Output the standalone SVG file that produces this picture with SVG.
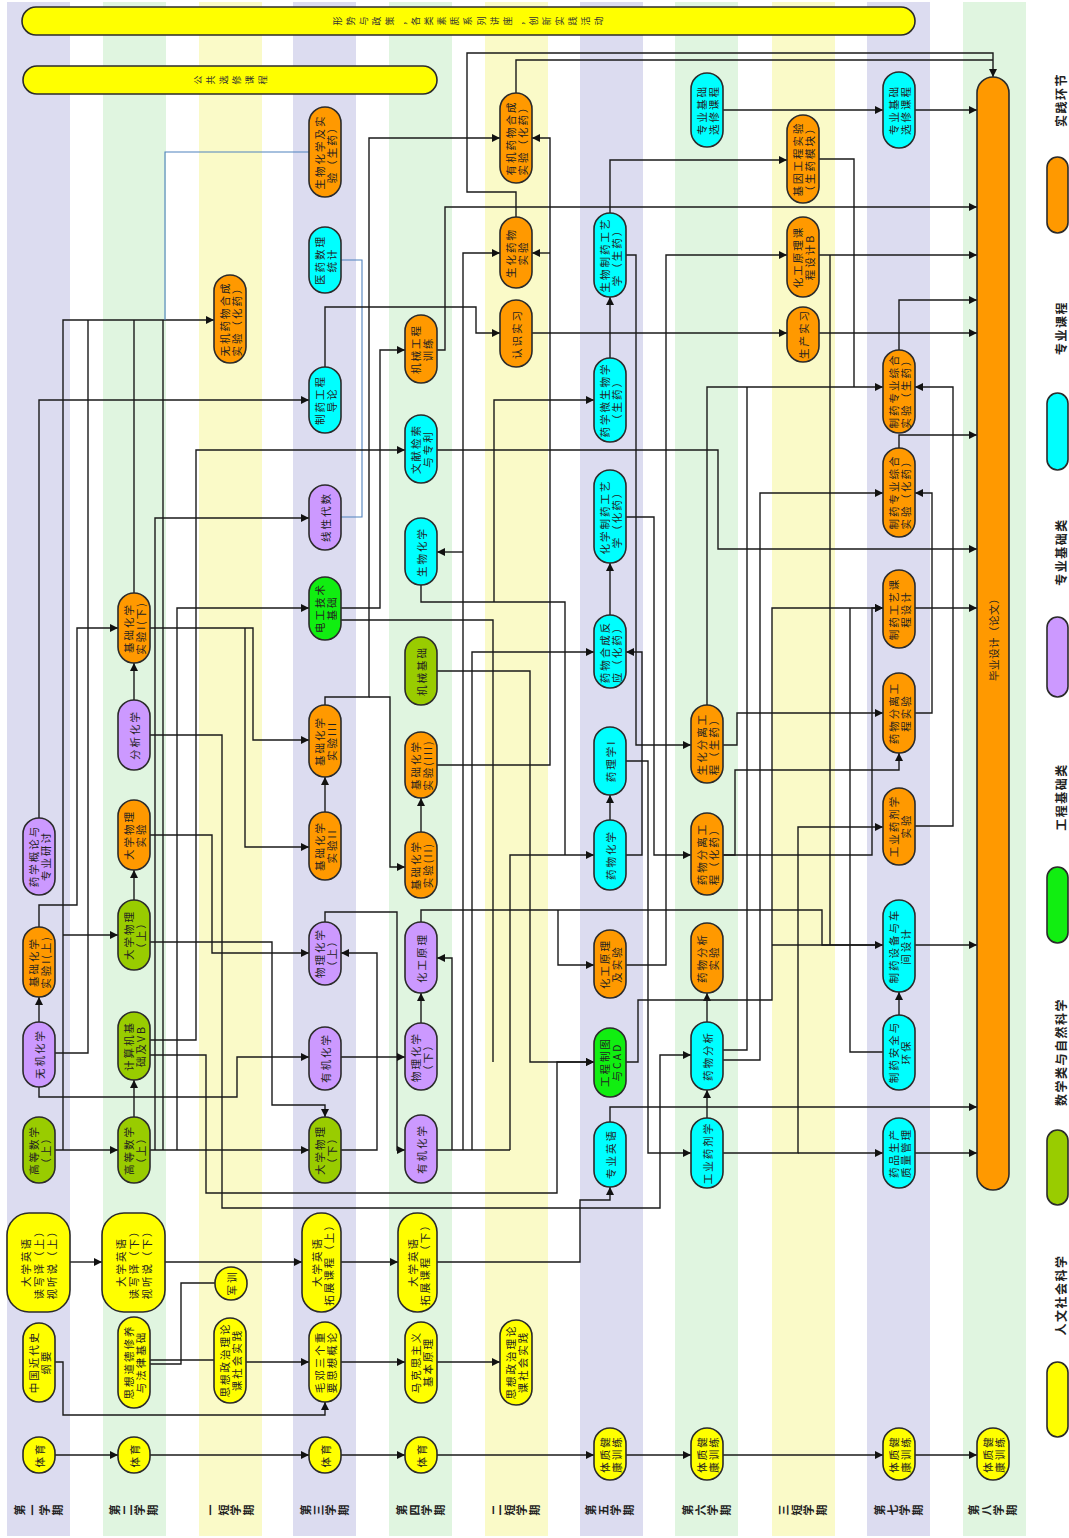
<svg xmlns="http://www.w3.org/2000/svg" width="1069" height="1538" viewBox="0 0 1069 1538">
<defs>
<marker id="ah" viewBox="0 0 10 10" refX="10" refY="5" markerWidth="8" markerHeight="8" markerUnits="userSpaceOnUse" orient="auto"><path d="M0,0 L10,5 L0,10 z" fill="#111"/></marker>
<style>
.sL{fill:#DCDCF0}.sG{fill:#E0F5E0}.sY{fill:#FAFAC8}
.n{stroke:#2b2b2b;stroke-width:1.6}
.o{fill:#FF9900}.c{fill:#00FFFF}.p{fill:#CC99FF}.g{fill:#11EE11}.v{fill:#99CC00}.y{fill:#FFFF00}
.t{font-family:"Noto Sans CJK SC","Liberation Sans",sans-serif;font-size:10.5px;fill:#222;letter-spacing:2px;text-anchor:middle;dominant-baseline:central}
.sl{font-family:"Noto Sans CJK SC","Liberation Sans",sans-serif;font-size:11px;font-weight:bold;fill:#222;letter-spacing:1.5px;text-anchor:middle}
.bt{font-family:"Noto Sans CJK SC","Liberation Sans",sans-serif;font-size:9px;fill:#333;letter-spacing:4px;text-anchor:middle}
.lg{font-family:"Noto Sans CJK SC","Liberation Sans",sans-serif;font-size:12px;font-weight:bold;fill:#222;letter-spacing:1.5px;text-anchor:middle;dominant-baseline:central}
.a{fill:none;stroke:#1a1a1a;stroke-width:1.4;marker-end:url(#ah)}
.l{fill:none;stroke:#1a1a1a;stroke-width:1.4}
.b{fill:none;stroke:#4f81bd;stroke-width:1.1}
</style>
</defs>
<g id="stripes">
<rect class="sL" x="7" y="2" width="63" height="1534"/>
<rect class="sG" x="103" y="2" width="63" height="1534"/>
<rect class="sY" x="199" y="2" width="63" height="1534"/>
<rect class="sL" x="293" y="2" width="63" height="1534"/>
<rect class="sG" x="389" y="2" width="63" height="1534"/>
<rect class="sY" x="485" y="2" width="63" height="1534"/>
<rect class="sL" x="580" y="2" width="63" height="1534"/>
<rect class="sG" x="675" y="2" width="63" height="1534"/>
<rect class="sY" x="772" y="2" width="63" height="1534"/>
<rect class="sL" x="867" y="2" width="63" height="1534"/>
<rect class="sG" x="963" y="2" width="63" height="1534"/>
</g>
<g id="semesters">
<text class="sl" x="49.4" y="1515.5" rotate="-90">第一学期</text>
<text class="sl" x="144.4" y="1515.5" rotate="-90">第二学期</text>
<text class="sl" x="240.4" y="1515.5" rotate="-90">一短学期</text>
<text class="sl" x="335.4" y="1515.5" rotate="-90">第三学期</text>
<text class="sl" x="431.4" y="1515.5" rotate="-90">第四学期</text>
<text class="sl" x="526.4" y="1515.5" rotate="-90">二短学期</text>
<text class="sl" x="620.4" y="1515.5" rotate="-90">第五学期</text>
<text class="sl" x="717.4" y="1515.5" rotate="-90">第六学期</text>
<text class="sl" x="813.4" y="1515.5" rotate="-90">三短学期</text>
<text class="sl" x="909.4" y="1515.5" rotate="-90">第七学期</text>
<text class="sl" x="1003.4" y="1515.5" rotate="-90">第八学期</text>
</g>
<g id="connectors">
<path class="a" d="M55,1455 H118"/>
<path class="a" d="M150,1455 H309"/>
<path class="a" d="M341,1455 H405"/>
<path class="a" d="M437,1455 H594"/>
<path class="a" d="M626,1455 H691"/>
<path class="a" d="M723,1455 H883"/>
<path class="a" d="M915,1455 H977"/>
<path class="a" d="M70,1262 H102"/>
<path class="a" d="M165,1262 H302"/>
<path class="a" d="M341,1262 H398"/>
<path class="a" d="M437,1262 H580 V1200 H610 V1187"/>
<path class="a" d="M55,1362 H63 V1415 H325 V1402"/>
<path class="l" d="M150,1360 H214"/>
<path class="l" d="M150,1364 H181 V1283 H215"/>
<path class="a" d="M246,1362 H309"/>
<path class="a" d="M341,1362 H405"/>
<path class="a" d="M437,1362 H500"/>
<path class="a" d="M55,1150 H118"/>
<path class="a" d="M150,1150 H309"/>
<path class="a" d="M134,1117 V1080"/>
<path class="a" d="M39,1022 V997"/>
<path class="a" d="M134,900 V870"/>
<path class="a" d="M134,700 V663"/>
<path class="a" d="M325,812 V777"/>
<path class="a" d="M421,832 V798"/>
<path class="a" d="M610,820 V795"/>
<path class="a" d="M610,615 V563"/>
<path class="a" d="M610,358 V297"/>
<path class="a" d="M421,1023 V993"/>
<path class="a" d="M707,1022 V993"/>
<path class="a" d="M707,1118 V1090"/>
<path class="a" d="M899,1015 V992"/>
<path class="a" d="M39,818 V400 H309"/>
<path class="a" d="M63,1150 V320 H214"/>
<path class="a" d="M63,935 H118"/>
<path class="a" d="M39,927 V905 H77 V628 H118"/>
<path class="l" d="M55,1053 H88 V320"/>
<path class="l" d="M134,593 V320"/>
<path class="l" d="M163,1150 V320"/>
<path class="b" d="M309,152 H165 V320"/>
<path class="b" d="M341,260 H362 V517 H341"/>
<path class="a" d="M155,1150 V518 H309"/>
<path class="a" d="M177,1150 V608 H309"/>
<path class="a" d="M150,1040 H196 V450 H405"/>
<path class="a" d="M150,1055 H206 V1193 H557 V1062 H594"/>
<path class="a" d="M39,1087 V1097 H237 V1057 H309"/>
<path class="a" d="M150,735 H222 V1208 H660 V1055 H691"/>
<path class="a" d="M150,835 H212 V953 H309"/>
<path class="a" d="M150,942 H272 V1105 H325 V1117"/>
<path class="a" d="M150,628 H253 V740 H309"/>
<path class="a" d="M245,628 V847 H309"/>
<path class="a" d="M325,705 V697 H369 V138 H500"/>
<path class="a" d="M369,697 H390 V867 H405"/>
<path class="a" d="M341,608 H380 V350 H405"/>
<path class="l" d="M341,620 H493 V1062"/>
<path class="a" d="M325,367 V307 H476 V333 H500"/>
<path class="a" d="M437,350 H445 V207 H977"/>
<path class="a" d="M516,217 V192 H467 V53 H993 V77"/>
<path class="l" d="M516,93 V60 H993"/>
<path class="a" d="M437,765 H550 V138 H532"/>
<path class="a" d="M550,253 H532"/>
<path class="l" d="M437,1150 H510"/>
<path class="a" d="M452,1150 V958 H437"/>
<path class="a" d="M463,1150 V253 H500"/>
<path class="a" d="M463,552 H437"/>
<path class="a" d="M472,1150 V652 H594"/>
<path class="a" d="M510,1150 V855 H594"/>
<path class="l" d="M421,585 V602 H565 V855"/>
<path class="a" d="M494,602 V400 H594"/>
<path class="a" d="M626,855 H642 V652 H626"/>
<path class="a" d="M421,922 V910 H822 V945 H883"/>
<path class="a" d="M558,910 V965 H594"/>
<path class="a" d="M626,965 H666 V255 H787"/>
<path class="a" d="M626,761 H648 V1153 H691"/>
<path class="a" d="M626,517 H654 V855 H691"/>
<path class="a" d="M626,255 H636 V745 H691"/>
<path class="a" d="M723,855 H735 V770 H899 V753"/>
<path class="a" d="M723,745 H737 V713 H883"/>
<path class="a" d="M707,705 V387 H883"/>
<path class="l" d="M723,1050 H747 V387"/>
<path class="a" d="M723,1060 H760 V493 H883"/>
<path class="l" d="M819,159 H854 V387"/>
<path class="a" d="M915,826 H953 V387 H915"/>
<path class="a" d="M915,713 H932 V493 H915"/>
<path class="a" d="M915,608 H977"/>
<path class="a" d="M723,855 H872 V608 H883"/>
<path class="a" d="M723,1153 H798 V827 H883"/>
<path class="a" d="M798,1153 H883"/>
<path class="a" d="M915,1153 H977"/>
<path class="a" d="M610,1122 V1107 H977"/>
<path class="a" d="M915,945 H977"/>
<path class="a" d="M626,1062 H638 V1000 H772 V608 H883"/>
<path class="l" d="M772,945 H883"/>
<path class="l" d="M850,608 V1052 H883"/>
<path class="l" d="M830,255 V945"/>
<path class="a" d="M819,255 H977"/>
<path class="a" d="M819,333 H977"/>
<path class="a" d="M532,333 H787"/>
<path class="a" d="M610,213 V160 H787"/>
<path class="a" d="M723,110 H883"/>
<path class="a" d="M915,110 H977"/>
<path class="a" d="M899,350 V300 H977"/>
<path class="a" d="M899,448 V435 H977"/>
<path class="a" d="M437,450 H718 V549 H977"/>
<path class="a" d="M325,922 V912 H397 V1150 H405"/>
<path class="a" d="M341,1057 H405"/>
<path class="a" d="M341,1150 H377 V953 H341"/>
<path class="a" d="M437,671 H530 V1062 H594"/>
</g>
<g id="banners">
<rect class="n y" x="22" y="7" width="893" height="28" rx="14"/>
<text class="bt" x="478" y="25.5" rotate="-90">形势与政策，各类素质系列讲座，创新实践活动</text>
<rect class="n y" x="23" y="66" width="414" height="28" rx="14"/>
<text class="bt" x="240" y="84.5" rotate="-90">公共选修课程</text>
</g>
<g id="n_jc1s"><rect class="n o" x="23" y="927" width="32" height="70" rx="16"/><g transform="translate(39,962) rotate(-90)"><text class="t" y="-6">基础化学</text><text class="t" y="6">实验I(上)</text></g></g>
<g id="n_yxgl"><rect class="n p" x="23" y="818" width="32" height="77" rx="16"/><g transform="translate(39,856) rotate(-90)"><text class="t" y="-6">药学概论与</text><text class="t" y="6">专业研讨</text></g></g>
<g id="n_wjhx"><rect class="n p" x="23" y="1022" width="32" height="65" rx="16"/><g transform="translate(39,1054) rotate(-90)"><text class="t">无机化学</text></g></g>
<g id="n_gs1"><rect class="n v" x="23" y="1117" width="32" height="66" rx="16"/><g transform="translate(39,1150) rotate(-90)"><text class="t" y="-6">高等数学</text><text class="t" y="6">（上）</text></g></g>
<g id="n_yy1"><rect class="n y" x="7" y="1213" width="63" height="99" rx="22"/><g transform="translate(38,1262) rotate(-90)"><text class="t" y="-13">大学英语</text><text class="t" y="0">读写译（上）</text><text class="t" y="13">视听说（上）</text></g></g>
<g id="n_jds"><rect class="n y" x="23" y="1323" width="32" height="79" rx="16"/><g transform="translate(39,1362) rotate(-90)"><text class="t" y="-6">中国近代史</text><text class="t" y="6">纲要</text></g></g>
<g id="n_ty1"><rect class="n y" x="23" y="1437" width="32" height="36" rx="16"/><g transform="translate(39,1455) rotate(-90)"><text class="t">体育</text></g></g>
<g id="n_jc1x"><rect class="n o" x="118" y="593" width="32" height="70" rx="16"/><g transform="translate(134,628) rotate(-90)"><text class="t" y="-6">基础化学</text><text class="t" y="6">实验I(下)</text></g></g>
<g id="n_fxhx"><rect class="n p" x="118" y="700" width="32" height="70" rx="16"/><g transform="translate(134,735) rotate(-90)"><text class="t">分析化学</text></g></g>
<g id="n_dwsy"><rect class="n o" x="118" y="800" width="32" height="70" rx="16"/><g transform="translate(134,835) rotate(-90)"><text class="t" y="-6">大学物理</text><text class="t" y="6">实验</text></g></g>
<g id="n_dw1"><rect class="n v" x="118" y="900" width="32" height="70" rx="16"/><g transform="translate(134,935) rotate(-90)"><text class="t" y="-6">大学物理</text><text class="t" y="6">（上）</text></g></g>
<g id="n_jsj"><rect class="n v" x="118" y="1012" width="32" height="68" rx="16"/><g transform="translate(134,1046) rotate(-90)"><text class="t" y="-6">计算机基</text><text class="t" y="6">础及VB</text></g></g>
<g id="n_gs2"><rect class="n v" x="118" y="1117" width="32" height="66" rx="16"/><g transform="translate(134,1150) rotate(-90)"><text class="t" y="-6">高等数学</text><text class="t" y="6">（上）</text></g></g>
<g id="n_yy2"><rect class="n y" x="102" y="1213" width="63" height="99" rx="22"/><g transform="translate(133,1262) rotate(-90)"><text class="t" y="-13">大学英语</text><text class="t" y="0">读写译（下）</text><text class="t" y="13">视听说（下）</text></g></g>
<g id="n_sxdd"><rect class="n y" x="118" y="1317" width="32" height="91" rx="16"/><g transform="translate(134,1362) rotate(-90)"><text class="t" y="-6">思想道德修养</text><text class="t" y="6">与法律基础</text></g></g>
<g id="n_ty2"><rect class="n y" x="118" y="1437" width="32" height="36" rx="16"/><g transform="translate(134,1455) rotate(-90)"><text class="t">体育</text></g></g>
<g id="n_wjyw"><rect class="n o" x="214" y="275" width="32" height="88" rx="16"/><g transform="translate(230,319) rotate(-90)"><text class="t" y="-6">无机药物合成</text><text class="t" y="6">实验（化药）</text></g></g>
<g id="n_jx"><rect class="n y" x="215" y="1267" width="32" height="33" rx="16"/><g transform="translate(231,1283) rotate(-90)"><text class="t">军训</text></g></g>
<g id="n_szsj1"><rect class="n y" x="214" y="1318" width="32" height="85" rx="16"/><g transform="translate(230,1360) rotate(-90)"><text class="t" y="-6">思想政治理论</text><text class="t" y="6">课社会实践</text></g></g>
<g id="n_shsy"><rect class="n o" x="309" y="107" width="32" height="90" rx="16"/><g transform="translate(325,152) rotate(-90)"><text class="t" y="-6">生物化学及实</text><text class="t" y="6">验（生药）</text></g></g>
<g id="n_yytj"><rect class="n c" x="309" y="227" width="32" height="66" rx="16"/><g transform="translate(325,260) rotate(-90)"><text class="t" y="-6">医药数理</text><text class="t" y="6">统计</text></g></g>
<g id="n_zydl"><rect class="n c" x="309" y="367" width="32" height="66" rx="16"/><g transform="translate(325,400) rotate(-90)"><text class="t" y="-6">制药工程</text><text class="t" y="6">导论</text></g></g>
<g id="n_xxds"><rect class="n p" x="309" y="485" width="32" height="65" rx="16"/><g transform="translate(325,517) rotate(-90)"><text class="t">线性代数</text></g></g>
<g id="n_dgjs"><rect class="n g" x="309" y="577" width="32" height="63" rx="16"/><g transform="translate(325,608) rotate(-90)"><text class="t" y="-6">电工技术</text><text class="t" y="6">基础</text></g></g>
<g id="n_jc3a"><rect class="n o" x="309" y="705" width="32" height="72" rx="16"/><g transform="translate(325,741) rotate(-90)"><text class="t" y="-6">基础化学</text><text class="t" y="6">实验III</text></g></g>
<g id="n_jc2a"><rect class="n o" x="309" y="812" width="32" height="68" rx="16"/><g transform="translate(325,846) rotate(-90)"><text class="t" y="-6">基础化学</text><text class="t" y="6">实验II</text></g></g>
<g id="n_wh1"><rect class="n p" x="309" y="922" width="32" height="63" rx="16"/><g transform="translate(325,953) rotate(-90)"><text class="t" y="-6">物理化学</text><text class="t" y="6">（上）</text></g></g>
<g id="n_yjhx1"><rect class="n p" x="309" y="1027" width="32" height="63" rx="16"/><g transform="translate(325,1058) rotate(-90)"><text class="t">有机化学</text></g></g>
<g id="n_dw2"><rect class="n v" x="309" y="1117" width="32" height="66" rx="16"/><g transform="translate(325,1150) rotate(-90)"><text class="t" y="-6">大学物理</text><text class="t" y="6">（下）</text></g></g>
<g id="n_yytz1"><rect class="n y" x="302" y="1213" width="39" height="99" rx="19"/><g transform="translate(322,1262) rotate(-90)"><text class="t" y="-6">大学英语</text><text class="t" y="6">拓展课程（上）</text></g></g>
<g id="n_md"><rect class="n y" x="309" y="1322" width="32" height="80" rx="16"/><g transform="translate(325,1362) rotate(-90)"><text class="t" y="-6">毛邓三个重</text><text class="t" y="6">要思想概论</text></g></g>
<g id="n_ty4"><rect class="n y" x="309" y="1437" width="32" height="36" rx="16"/><g transform="translate(325,1455) rotate(-90)"><text class="t">体育</text></g></g>
<g id="n_jxgc"><rect class="n o" x="405" y="315" width="32" height="68" rx="16"/><g transform="translate(421,349) rotate(-90)"><text class="t" y="-6">机械工程</text><text class="t" y="6">训练</text></g></g>
<g id="n_wxjs"><rect class="n c" x="405" y="415" width="32" height="68" rx="16"/><g transform="translate(421,449) rotate(-90)"><text class="t" y="-6">文献检索</text><text class="t" y="6">与专利</text></g></g>
<g id="n_swhx"><rect class="n c" x="405" y="518" width="32" height="67" rx="16"/><g transform="translate(421,552) rotate(-90)"><text class="t">生物化学</text></g></g>
<g id="n_jxjc"><rect class="n v" x="405" y="637" width="32" height="68" rx="16"/><g transform="translate(421,671) rotate(-90)"><text class="t">机械基础</text></g></g>
<g id="n_jc3b"><rect class="n o" x="405" y="732" width="32" height="66" rx="16"/><g transform="translate(421,765) rotate(-90)"><text class="t" y="-6">基础化学</text><text class="t" y="6">实验(III)</text></g></g>
<g id="n_jc2b"><rect class="n o" x="405" y="832" width="32" height="66" rx="16"/><g transform="translate(421,865) rotate(-90)"><text class="t" y="-6">基础化学</text><text class="t" y="6">实验(II)</text></g></g>
<g id="n_hgyl"><rect class="n p" x="405" y="922" width="32" height="71" rx="16"/><g transform="translate(421,958) rotate(-90)"><text class="t">化工原理</text></g></g>
<g id="n_wh2"><rect class="n p" x="405" y="1023" width="32" height="67" rx="16"/><g transform="translate(421,1057) rotate(-90)"><text class="t" y="-6">物理化学</text><text class="t" y="6">（下）</text></g></g>
<g id="n_yjhx2"><rect class="n p" x="405" y="1115" width="32" height="68" rx="16"/><g transform="translate(421,1149) rotate(-90)"><text class="t">有机化学</text></g></g>
<g id="n_yytz2"><rect class="n y" x="398" y="1213" width="39" height="99" rx="19"/><g transform="translate(418,1262) rotate(-90)"><text class="t" y="-6">大学英语</text><text class="t" y="6">拓展课程（下）</text></g></g>
<g id="n_mks"><rect class="n y" x="405" y="1322" width="32" height="81" rx="16"/><g transform="translate(421,1362) rotate(-90)"><text class="t" y="-6">马克思主义</text><text class="t" y="6">基本原理</text></g></g>
<g id="n_ty5"><rect class="n y" x="405" y="1437" width="32" height="36" rx="16"/><g transform="translate(421,1455) rotate(-90)"><text class="t">体育</text></g></g>
<g id="n_yjyw"><rect class="n o" x="500" y="93" width="32" height="90" rx="16"/><g transform="translate(516,138) rotate(-90)"><text class="t" y="-6">有机药物合成</text><text class="t" y="6">实验（化药）</text></g></g>
<g id="n_shyw"><rect class="n o" x="500" y="217" width="32" height="71" rx="16"/><g transform="translate(516,253) rotate(-90)"><text class="t" y="-6">生化药物</text><text class="t" y="6">实验</text></g></g>
<g id="n_rssx"><rect class="n o" x="500" y="300" width="32" height="67" rx="16"/><g transform="translate(516,334) rotate(-90)"><text class="t">认识实习</text></g></g>
<g id="n_szsj2"><rect class="n y" x="500" y="1320" width="32" height="85" rx="16"/><g transform="translate(516,1362) rotate(-90)"><text class="t" y="-6">思想政治理论</text><text class="t" y="6">课社会实践</text></g></g>
<g id="n_swzy"><rect class="n c" x="594" y="213" width="32" height="84" rx="16"/><g transform="translate(610,255) rotate(-90)"><text class="t" y="-6">生物制药工艺</text><text class="t" y="6">学（生药）</text></g></g>
<g id="n_yxwsw"><rect class="n c" x="594" y="358" width="32" height="84" rx="16"/><g transform="translate(610,400) rotate(-90)"><text class="t" y="-6">药学微生物学</text><text class="t" y="6">（生药）</text></g></g>
<g id="n_hxzy"><rect class="n c" x="594" y="470" width="32" height="93" rx="16"/><g transform="translate(610,517) rotate(-90)"><text class="t" y="-6">化学制药工艺</text><text class="t" y="6">学（化药）</text></g></g>
<g id="n_ywhc"><rect class="n c" x="594" y="615" width="32" height="73" rx="16"/><g transform="translate(610,652) rotate(-90)"><text class="t" y="-6">药物合成反</text><text class="t" y="6">应（化药）</text></g></g>
<g id="n_ylx"><rect class="n c" x="594" y="727" width="32" height="68" rx="16"/><g transform="translate(610,761) rotate(-90)"><text class="t">药理学I</text></g></g>
<g id="n_ywhx"><rect class="n c" x="594" y="820" width="32" height="70" rx="16"/><g transform="translate(610,855) rotate(-90)"><text class="t">药物化学</text></g></g>
<g id="n_hgsy"><rect class="n o" x="594" y="930" width="32" height="68" rx="16"/><g transform="translate(610,964) rotate(-90)"><text class="t" y="-6">化工原理</text><text class="t" y="6">及实验</text></g></g>
<g id="n_gczt"><rect class="n g" x="594" y="1028" width="32" height="69" rx="16"/><g transform="translate(610,1062) rotate(-90)"><text class="t" y="-6">工程制图</text><text class="t" y="6">与CAD</text></g></g>
<g id="n_zyyy"><rect class="n c" x="594" y="1122" width="32" height="65" rx="16"/><g transform="translate(610,1154) rotate(-90)"><text class="t">专业英语</text></g></g>
<g id="n_tz7"><rect class="n y" x="594" y="1428" width="32" height="52" rx="16"/><g transform="translate(610,1454) rotate(-90)"><text class="t" y="-6">体质健</text><text class="t" y="6">康训练</text></g></g>
<g id="n_zyxx1"><rect class="n c" x="691" y="73" width="32" height="74" rx="16"/><g transform="translate(707,110) rotate(-90)"><text class="t" y="-6">专业基础</text><text class="t" y="6">选修课程</text></g></g>
<g id="n_shfl"><rect class="n o" x="691" y="705" width="32" height="78" rx="16"/><g transform="translate(707,744) rotate(-90)"><text class="t" y="-6">生化分离工</text><text class="t" y="6">程（生药）</text></g></g>
<g id="n_ywfl"><rect class="n o" x="691" y="813" width="32" height="82" rx="16"/><g transform="translate(707,854) rotate(-90)"><text class="t" y="-6">药物分离工</text><text class="t" y="6">程（化药）</text></g></g>
<g id="n_ywfxsy"><rect class="n o" x="691" y="923" width="32" height="70" rx="16"/><g transform="translate(707,958) rotate(-90)"><text class="t" y="-6">药物分析</text><text class="t" y="6">实验</text></g></g>
<g id="n_ywfx"><rect class="n c" x="691" y="1022" width="32" height="68" rx="16"/><g transform="translate(707,1056) rotate(-90)"><text class="t">药物分析</text></g></g>
<g id="n_gyyj"><rect class="n c" x="691" y="1118" width="32" height="70" rx="16"/><g transform="translate(707,1153) rotate(-90)"><text class="t">工业药剂学</text></g></g>
<g id="n_tz8"><rect class="n y" x="691" y="1428" width="32" height="52" rx="16"/><g transform="translate(707,1454) rotate(-90)"><text class="t" y="-6">体质健</text><text class="t" y="6">康训练</text></g></g>
<g id="n_jygc"><rect class="n o" x="787" y="115" width="32" height="88" rx="16"/><g transform="translate(803,159) rotate(-90)"><text class="t" y="-6">基因工程实验</text><text class="t" y="6">（生药模块）</text></g></g>
<g id="n_hgkc"><rect class="n o" x="787" y="217" width="32" height="80" rx="16"/><g transform="translate(803,257) rotate(-90)"><text class="t" y="-6">化工原理课</text><text class="t" y="6">程设计B</text></g></g>
<g id="n_scsx"><rect class="n o" x="787" y="307" width="32" height="55" rx="16"/><g transform="translate(803,334) rotate(-90)"><text class="t">生产实习</text></g></g>
<g id="n_zyxx2"><rect class="n c" x="883" y="72" width="32" height="76" rx="16"/><g transform="translate(899,110) rotate(-90)"><text class="t" y="-6">专业基础</text><text class="t" y="6">选修课程</text></g></g>
<g id="n_zhsw"><rect class="n o" x="883" y="350" width="32" height="83" rx="16"/><g transform="translate(899,391) rotate(-90)"><text class="t" y="-6">制药专业综合</text><text class="t" y="6">实验（生药）</text></g></g>
<g id="n_zhhy"><rect class="n o" x="883" y="448" width="32" height="89" rx="16"/><g transform="translate(899,492) rotate(-90)"><text class="t" y="-6">制药专业综合</text><text class="t" y="6">实验（化药）</text></g></g>
<g id="n_zygy"><rect class="n o" x="883" y="570" width="32" height="78" rx="16"/><g transform="translate(899,609) rotate(-90)"><text class="t" y="-6">制药工艺课</text><text class="t" y="6">程设计</text></g></g>
<g id="n_flsy"><rect class="n o" x="883" y="673" width="32" height="80" rx="16"/><g transform="translate(899,713) rotate(-90)"><text class="t" y="-6">药物分离工</text><text class="t" y="6">程实验</text></g></g>
<g id="n_gysy"><rect class="n o" x="883" y="788" width="32" height="77" rx="16"/><g transform="translate(899,826) rotate(-90)"><text class="t" y="-6">工业药剂学</text><text class="t" y="6">实验</text></g></g>
<g id="n_sbsj"><rect class="n c" x="883" y="900" width="32" height="92" rx="16"/><g transform="translate(899,946) rotate(-90)"><text class="t" y="-6">制药设备与车</text><text class="t" y="6">间设计</text></g></g>
<g id="n_aqhb"><rect class="n c" x="883" y="1015" width="32" height="75" rx="16"/><g transform="translate(899,1052) rotate(-90)"><text class="t" y="-6">制药安全与</text><text class="t" y="6">环保</text></g></g>
<g id="n_ypzl"><rect class="n c" x="883" y="1118" width="32" height="70" rx="16"/><g transform="translate(899,1153) rotate(-90)"><text class="t" y="-6">药品生产</text><text class="t" y="6">质量管理</text></g></g>
<g id="n_tz10"><rect class="n y" x="883" y="1428" width="32" height="52" rx="16"/><g transform="translate(899,1454) rotate(-90)"><text class="t" y="-6">体质健</text><text class="t" y="6">康训练</text></g></g>
<g id="n_bysj"><rect class="n o" x="977" y="77" width="32" height="1113" rx="16"/><g transform="translate(993,637) rotate(-90)"><text class="t" style="letter-spacing:0.5px">毕业设计（论文）</text></g></g>
<g id="n_tz11"><rect class="n y" x="977" y="1428" width="32" height="52" rx="16"/><g transform="translate(993,1454) rotate(-90)"><text class="t" y="-6">体质健</text><text class="t" y="6">康训练</text></g></g>
<g id="legend">
<g transform="translate(1060,100) rotate(-90)"><text class="lg">实践环节</text></g>
<rect class="n o" x="1047" y="157" width="21" height="76" rx="10.5"/>
<g transform="translate(1060,328) rotate(-90)"><text class="lg">专业课程</text></g>
<rect class="n c" x="1047" y="393" width="21" height="77" rx="10.5"/>
<g transform="translate(1060,552) rotate(-90)"><text class="lg">专业基础类</text></g>
<rect class="n p" x="1047" y="617" width="21" height="80" rx="10.5"/>
<g transform="translate(1060,797) rotate(-90)"><text class="lg">工程基础类</text></g>
<rect class="n g" x="1047" y="867" width="21" height="76" rx="10.5"/>
<g transform="translate(1060,1052) rotate(-90)"><text class="lg">数学类与自然科学</text></g>
<rect class="n v" x="1047" y="1130" width="21" height="75" rx="10.5"/>
<g transform="translate(1060,1295) rotate(-90)"><text class="lg">人文社会科学</text></g>
<rect class="n y" x="1047" y="1362" width="21" height="75" rx="10.5"/>
</g>
</svg>
